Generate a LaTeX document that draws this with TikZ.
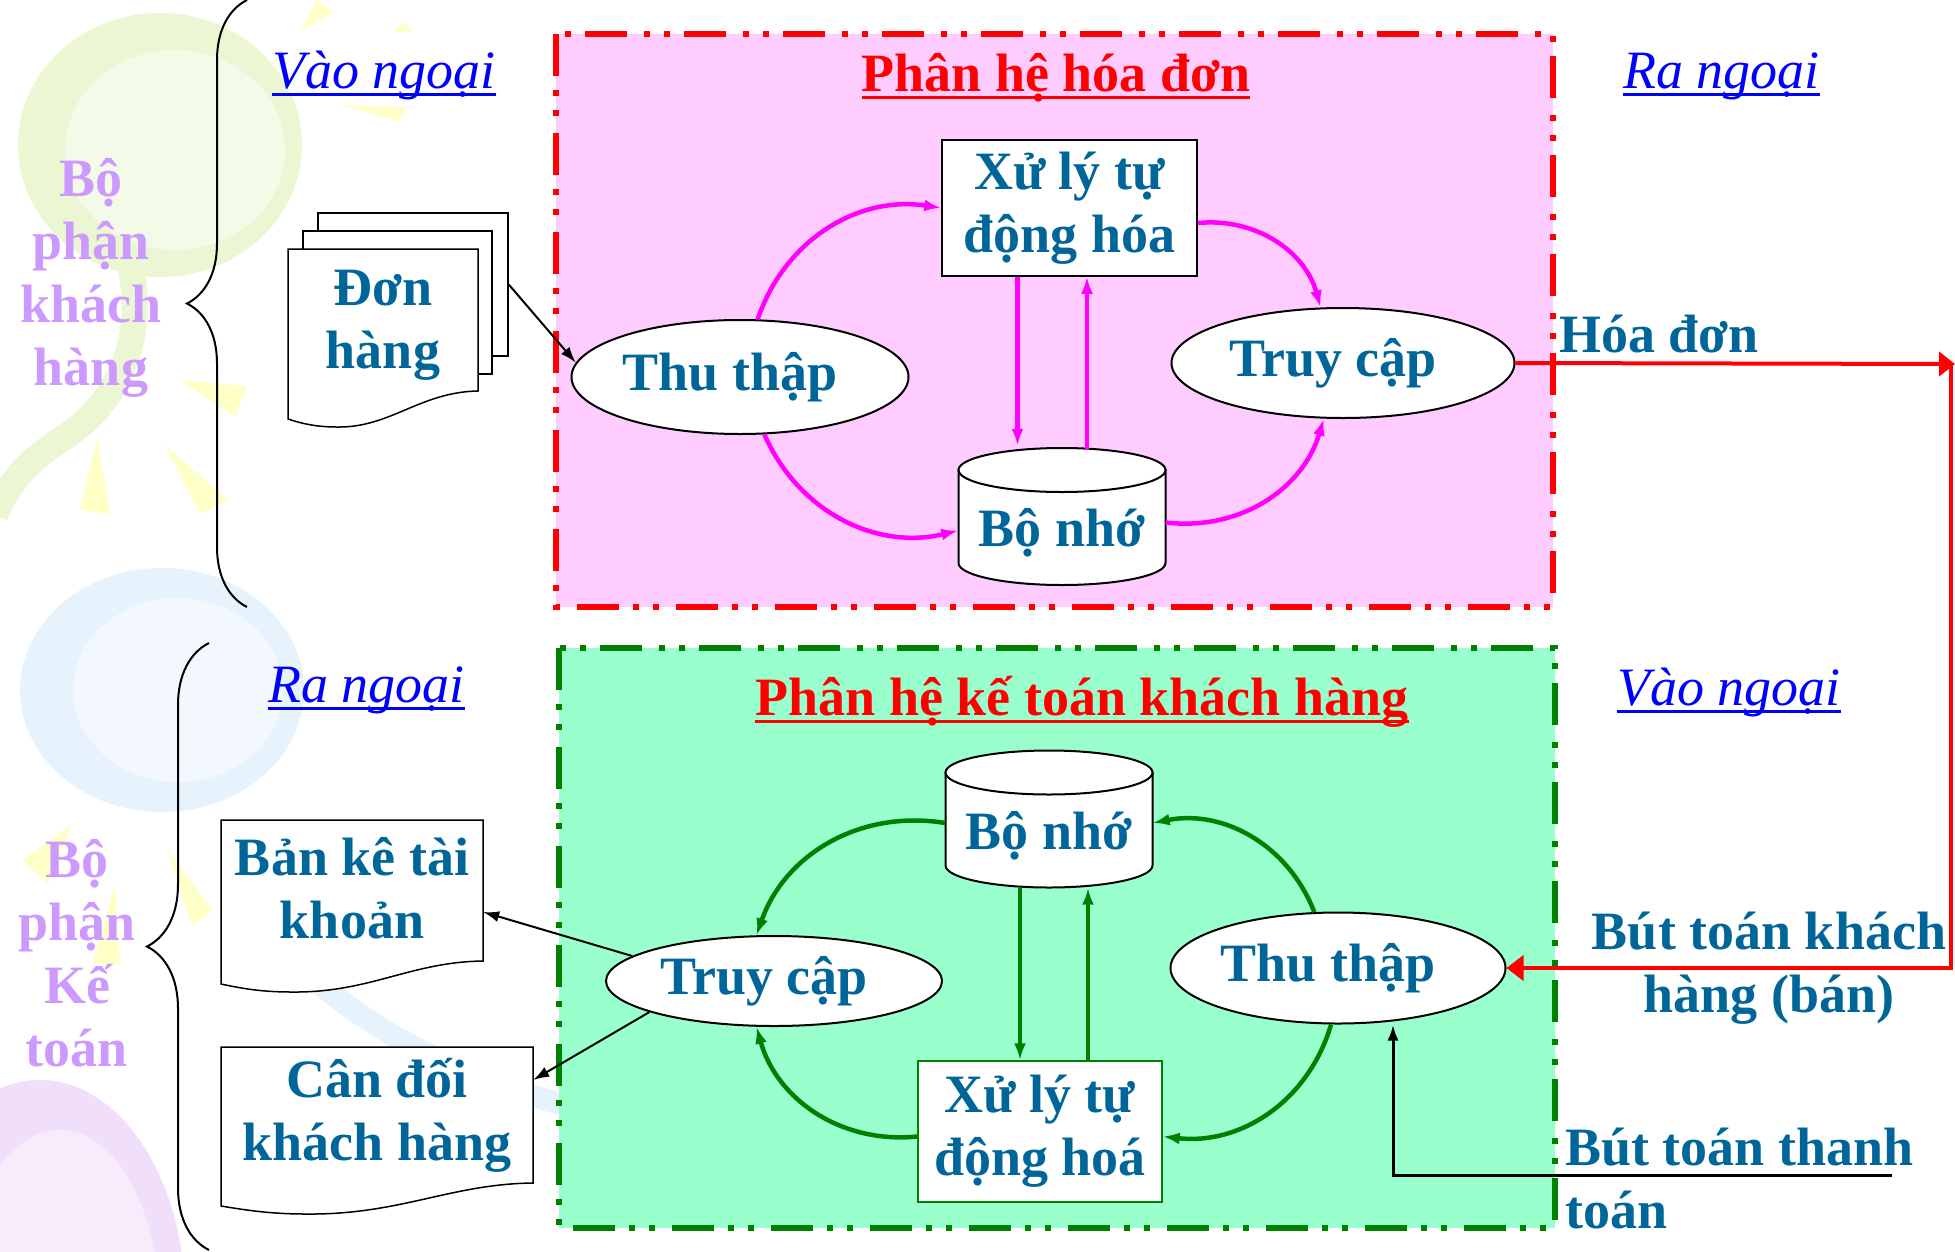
\documentclass[tikz,border=0pt]{standalone}
\usepackage{fontspec}
\setmainfont{Liberation Serif}
\usetikzlibrary{shapes.geometric,arrows.meta,decorations.pathreplacing}

\definecolor{txtblue}{RGB}{0,102,153}
\definecolor{lilac}{RGB}{204,153,255}
\definecolor{linkblue}{RGB}{0,0,255}
\definecolor{pinkfill}{RGB}{255,204,255}
\definecolor{mintfill}{RGB}{153,255,204}
\definecolor{magentaline}{RGB}{255,0,255}
\definecolor{darkgreen}{RGB}{0,128,0}
\definecolor{bggreen}{RGB}{235,247,211}
\definecolor{bggreenin}{RGB}{244,250,232}
\definecolor{bgblue}{RGB}{230,243,252}
\definecolor{bgbluein}{RGB}{242,248,254}
\definecolor{bgpurple}{RGB}{240,222,250}
\definecolor{bgpurplein}{RGB}{246,236,252}
\definecolor{bgyellow}{RGB}{255,255,200}

\newcommand{\bigtext}{\fontsize{54}{63}\selectfont}
% text in the ellipses sits a little left of centre
\newcommand{\lefttext}[1]{#1\hspace{20pt}}
% storage drum around centre (#1,#2), 207 wide, 137 high
\newcommand{\drumshape}[2]{%
  \draw[page, line width=2pt] (#1-103.5,#2-46.5) -- (#1-103.5,#2+46.5)
    .. controls (#1-103.5,#2+58.6) and (#1-57.2,#2+68.5) .. (#1,#2+68.5)
    .. controls (#1+57.2,#2+68.5) and (#1+103.5,#2+58.6) .. (#1+103.5,#2+46.5)
    -- (#1+103.5,#2-46.5) -- cycle;
  \draw[page, line width=2pt] (#1,#2-46.5) ellipse (103.5 and 22);}

\begin{document}
\begin{tikzpicture}[x=1pt,y=-1pt,
  lbl/.style={font=\bigtext\bfseries, text=txtblue, align=center, inner sep=0pt},
  side/.style={font=\bigtext\bfseries, text=lilac, align=center, inner sep=0pt},
  ext/.style={font=\bigtext\itshape, text=linkblue, inner sep=0pt},
  heading/.style={font=\bigtext\bfseries, text=red, inner sep=0pt},
  proc/.style={lbl, ellipse, draw=black, line width=2pt, fill=white},
  autobox/.style={lbl, rectangle, draw=black, line width=1.5pt, fill=white},
  drum/.style={lbl, minimum width=207pt, minimum height=137pt, text height=65pt, text depth=6pt},
  page/.style={draw=black, line width=1.5pt, fill=white},
  flowA/.style={magentaline, line width=4.5pt, -{Latex[length=17pt,width=12pt]}},
  flowB/.style={darkgreen, line width=4.5pt, -{Latex[length=17pt,width=12pt]}},
  blackflow/.style={black, line width=2pt, -{Latex[length=16pt,width=11pt]}},
  redline/.style={red, line width=4pt},
  dashdots/.style={line width=5.5pt, dash pattern=on 42pt off 14pt on 6pt off 14pt on 6pt off 17pt},
  curly/.style={decorate, decoration={brace, amplitude=#1}, line width=2pt}]

\useasboundingbox (0,0) rectangle (1955,1251);

% faint swirls behind the left column
\fill[bggreen] (160,145) ellipse (142 and 132);
\fill[bggreenin] (175,150) ellipse (110 and 100);
\draw[bggreen, line width=26pt] (130,265) .. controls (145,330) and (125,400) .. (60,440) .. controls (30,460) and (10,480) .. (-5,515);
\fill[bgblue] (162,690) ellipse (142 and 122);
\fill[bgbluein] (178,690) ellipse (105 and 92);
\draw[bgblue, line width=22pt] (290,955) .. controls (350,1020) and (450,1075) .. (565,1105);
\fill[bgpurple] (40,1300) ellipse (145 and 220);
\fill[bgpurplein] (60,1310) ellipse (100 and 180);
\fill[bgyellow] (300,32) -- (317,0) -- (333,12) -- cycle;
\fill[bgyellow] (393,32) -- (403,22) -- (413,32) -- cycle;
\fill[bgyellow] (340,105) -- (407,107) -- (398,121) -- cycle;
\fill[bgyellow] (180,380) -- (247,386) -- (235,417) -- cycle;
\fill[bgyellow] (97,437) -- (80,510) -- (110,514) -- cycle;
\fill[bgyellow] (165,445) -- (200,514) -- (228,500) -- cycle;
\fill[bgyellow] (23,860) -- (72,824) -- (48,884) -- cycle;
\fill[bgyellow] (115,884) -- (93,963) -- (120,965) -- cycle;
\fill[bgyellow] (167,849) -- (213,910) -- (192,926) -- cycle;

% the two departments
\draw[curly=60pt] (247,607) -- (247,0);
\draw[curly=62pt] (209,1250) -- (209,643);
\node[side] (bpkh) at (91,278) {Bộ\\phận\\khách\\hàng};
\node[side] (bpkt) at (77,953) {Bộ\\phận\\Kế\\toán};

% subsystem frames
\draw[red, dashdots, fill=pinkfill] (556,34) rectangle (1553,607);
\draw[darkgreen, dashdots, fill=mintfill] (559,648) rectangle (1555,1228);

\node[heading, anchor=base] (titleA) at (1056,91) {Phân hệ hóa đơn};
\draw[red, line width=3pt] ([yshift=-6pt]titleA.base west) -- ([yshift=-6pt]titleA.base east);
\node[heading, anchor=base] (titleB) at (1082,715) {Phân hệ kế toán khách hàng};
\draw[red, line width=3pt] ([yshift=-6pt]titleB.base west) -- ([yshift=-6pt]titleB.base east);

% in / out captions
\node[ext, anchor=base west] (inA) at (272,88) {Vào ngoại};
\node[ext, anchor=base west] (outA) at (1623,88) {Ra ngoại};
\node[ext, anchor=base west] (outB) at (268,702) {Ra ngoại};
\node[ext, anchor=base west] (inB) at (1617,705) {Vào ngoại};
\foreach \c in {inA,outA,outB,inB}
  \draw[linkblue, line width=3pt] ([yshift=-6pt]\c.base west) -- ([yshift=-6pt]\c.base east);

% order documents
\node[page, minimum width=190pt, minimum height=143pt, inner sep=0pt] (donBack) at (413,284.5) {};
\node[page, minimum width=189pt, minimum height=143pt, inner sep=0pt] (donMid) at (397.5,302.5) {};
\draw[page] (288,249) -- (478,249) -- (478,391) .. controls (420,392) and (390,428) .. (337,427) .. controls (315,427) and (300,423) .. (288,419) -- cycle;
\node[lbl] (donhang) at (383,325) {Đơn\\hàng};

% reports
\draw[page] (221,820) -- (483,820) -- (483,961) .. controls (410,962) and (370,993) .. (291,992) .. controls (260,992) and (240,988) .. (221,984) -- cycle;
\node[lbl, minimum width=262pt] (banke) at (352,888) {Bản kê tài\\khoản};
\draw[page] (221,1047) -- (533,1047) -- (533,1183) .. controls (450,1184) and (400,1215) .. (306,1214) .. controls (270,1214) and (245,1210) .. (221,1206) -- cycle;
\node[lbl, minimum width=312pt] (candoi) at (377,1115) {Cân đối\\khách hàng};

% invoicing
\node[proc, minimum width=337pt, minimum height=114pt] (thuA) at (740,377) {\lefttext{Thu thập}};
\node[proc, minimum width=343pt, minimum height=110pt] (truyA) at (1343,363) {\lefttext{Truy cập}};
\node[autobox, minimum width=255pt, minimum height=136pt] (xulyA) at (1069.5,208) {Xử lý tự\\động hóa};
\drumshape{1062}{516.5}
\node[drum] (bonhoA) at (1062,516.5) {Bộ nhớ};

\draw[flowA] (thuA.73) to[bend left=40] (xulyA.west);
\draw[flowA] ([yshift=-15pt]xulyA.east) to[bend left=40] (truyA.112);
\draw[flowA] (thuA.293) to[bend right=40] ([yshift=-14pt]bonhoA.west);
\draw[flowA] ([yshift=-6pt]bonhoA.east) to[bend right=40] (truyA.251);
\draw[flowA] ([xshift=-52pt]xulyA.south) -- ([xshift=-52pt,yshift=2pt]xulyA.south |- bonhoA.north);
\draw[flowA] ([xshift=25pt,yshift=-2pt]bonhoA.north) -- ([xshift=25pt]bonhoA.north |- xulyA.south);

% customer accounting
\drumshape{1049}{819}
\node[drum, text height=66pt] (bonhoB) at (1049,819) {Bộ nhớ};
\node[proc, minimum width=336pt, minimum height=90pt] (truyB) at (774,981) {\lefttext{Truy cập}};
\node[proc, minimum width=335pt, minimum height=111pt] (thuB) at (1338,968) {\lefttext{Thu thập}};
\node[autobox, draw=darkgreen, minimum width=244pt, minimum height=141pt] (xulyB) at (1040,1131.5) {Xử lý tự\\động hoá};

\draw[flowB] ([yshift=-4pt]bonhoB.west) to[bend right=40] (truyB.111);
\draw[flowB] (thuB.113) to[bend right=40] ([yshift=-4pt]bonhoB.east);
\draw[flowB] (thuB.263) to[bend left=40] ([yshift=-5pt]xulyB.east);
\draw[flowB] ([yshift=-5pt]xulyB.west) to[bend left=40] (truyB.249);
\draw[flowB] ([xshift=-29pt]bonhoB.south) -- ([xshift=-29pt]bonhoB.south |- xulyB.north);
\draw[flowB] ([xshift=39pt]bonhoB.south |- xulyB.north) -- ([xshift=39pt]bonhoB.south);

% flows between departments
\draw[blackflow] (donBack.east) -- (thuA.175);
\draw[blackflow] (truyB.170) -- ([yshift=-24pt]banke.east);
\draw[blackflow] (truyB.194) -- ([yshift=35pt]candoi.east);

\coordinate (hoaTurn) at (1951,364);
\draw[redline, -{Triangle[length=16pt,width=24pt]}] (truyA.east) -- ([xshift=4pt]hoaTurn);
\draw[redline, -{Triangle[length=17pt,width=25pt]}] (hoaTurn) |- (thuB.east);
\node[lbl, anchor=base west] (hoadon) at (1559,352) {Hóa đơn};
\node[lbl] (butkh) at (1769,968) {Bút toán khách\\hàng (bán)};

\coordinate (payStart) at (1892,1175);
\draw[blackflow, line width=3pt] (payStart) -| ([xshift=55pt]thuB.south);
\node[lbl, align=left, anchor=west] (butthanh) at (1565,1178) {Bút toán thanh\\toán};

\end{tikzpicture}
\end{document}
